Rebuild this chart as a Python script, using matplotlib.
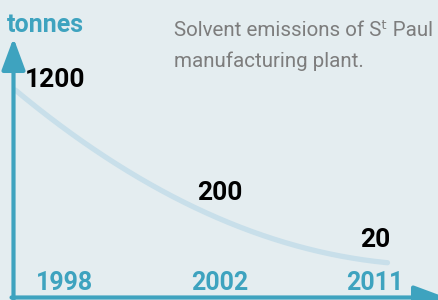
import numpy as np
import matplotlib
matplotlib.use('Agg')
import matplotlib.pyplot as plt

# data
years = ['1998', '2002', '2011']
tonnes = [1200, 200, 20]
title_lines = ['Solvent emissions of Sᵗ Paul', 'manufacturing plant.']

teal = '#3ea3bf'
curve_col = '#c8dfea'
bg = '#e4edf0'

num_font = ['Roboto', 'DejaVu Sans']
title_font = ['Roboto', 'DejaVu Sans']


def ssqrt(v):
    v = np.asarray(v, dtype=float)
    return np.sign(v) * np.sqrt(np.abs(v))


def ssq(u):
    u = np.asarray(u, dtype=float)
    return np.sign(u) * u ** 2


fig = plt.figure(figsize=(4.38, 3.0), dpi=100, facecolor=bg)
ax = fig.add_axes([0, 0, 1, 1], facecolor=bg)
ax.set_yscale('function', functions=(ssqrt, ssq))
ax.set_xlim(-0.419, 2.406)
ax.set_ylim(-18.7, 4097)
ax.axis('off')

# smooth curve through the points (quadratic in sqrt space), a bit past both ends
x = np.arange(len(tonnes))
coef = np.polyfit(x, np.sqrt(tonnes), 2)
xs = np.linspace(-0.32, 2.08, 200)
ax.plot(xs, np.polyval(coef, xs) ** 2, color=curve_col, lw=3.8,
        solid_capstyle='round', zorder=1)

# value labels (offsets in points)
offsets = [(-7, 35.5), (0, 18.5), (0, 15.5)]
for xi, v, off in zip(x, tonnes, offsets):
    ax.annotate(str(v), (xi, v), xytext=off, textcoords='offset points',
                ha='center', va='center', fontsize=19, fontweight='bold',
                family=num_font, color='black')

# years along the bottom
for xi, yr in zip(x, years):
    ax.text(xi, 0.057, yr, transform=ax.get_xaxis_transform(), ha='center',
            va='center', fontsize=18, fontweight='bold', family=num_font,
            color=teal)

# axis arrows
arrow = dict(arrowstyle='-|>,head_length=1.94,head_width=0.72', lw=3,
             color=teal, mutation_scale=10, shrinkA=0, shrinkB=0)
ax.annotate('', xy=(13.5, 262), xytext=(13.5, -2), xycoords='figure pixels',
            textcoords='figure pixels', arrowprops=arrow)
ax.annotate('', xy=(446, 2.5), xytext=(11.5, 2.5), xycoords='figure pixels',
            textcoords='figure pixels', arrowprops=arrow)

fig.text(7 / 438, 1 - 25 / 300, 'tonnes', ha='left', va='center', fontsize=18,
         fontweight='bold', family=num_font, color=teal)

for line, base in zip(title_lines, [36, 67]):
    fig.text(174 / 438, 1 - base / 300, line, ha='left', va='baseline',
             fontsize=14.8, family=title_font, color='#7d7d7d')

fig.savefig('out.png', dpi=100, facecolor=bg)
